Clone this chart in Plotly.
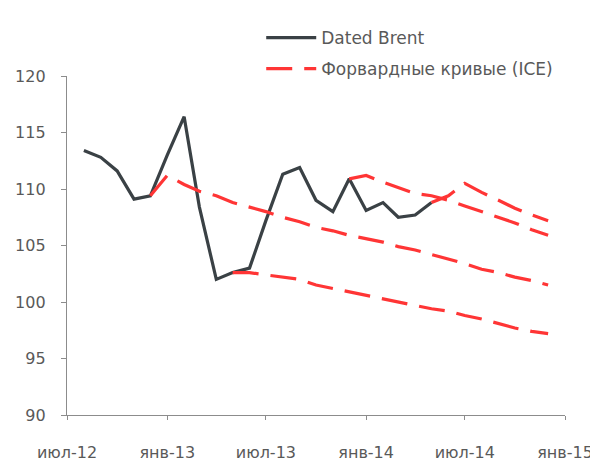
import pandas as pd
import plotly.graph_objects as go

# --- data ---
brent_start = "2012-08-01"
brent_values = [113.4, 112.8, 111.6, 109.1, 109.4, 113.0, 116.4, 108.4, 102.0, 102.6,
                103.0, 107.2, 111.3, 111.9, 109.0, 108.0, 110.9, 108.1, 108.8, 107.5,
                107.7, 108.8]

fwd1_start = "2012-12-01"
fwd1_values = [109.4, 111.2, 110.4, 109.8, 109.4, 108.8, 108.4, 108.0, 107.5, 107.1,
               106.6, 106.3, 105.9, 105.6, 105.3, 104.9, 104.6, 104.2, 103.8, 103.4,
               102.9, 102.6, 102.2, 101.9, 101.5]

fwd2_start = "2013-05-01"
fwd2_values = [102.6, 102.6, 102.4, 102.2, 102.0, 101.5, 101.2, 100.9, 100.6, 100.3,
               100.0, 99.7, 99.4, 99.2, 98.8, 98.5, 98.1, 97.7, 97.4, 97.2]

fwd3_start = "2013-12-01"
fwd3_values = [110.9, 111.2, 110.6, 110.1, 109.6, 109.4, 109.0, 108.5, 108.0, 107.5,
               107.0, 106.4, 105.9]

fwd4_start = "2014-05-01"
fwd4_values = [108.8, 109.4, 110.5, 109.7, 109.0, 108.3, 107.7, 107.2]

tick_dates = ["2012-07-01", "2013-01-01", "2013-07-01", "2014-01-01", "2014-07-01", "2015-01-01"]
tick_labels = ["июл-12", "янв-13", "июл-13", "янв-14", "июл-14", "янв-15"]
y_ticks = [90, 95, 100, 105, 110, 115, 120]

series_names = ["Dated Brent", "Форвардные кривые (ICE)"]

# --- styles ---
BLACK = "#3a4145"
RED = "#ff3535"
AXIS = "#8c8c8c"
TEXT = "#595959"
FONT = "DejaVu Sans"


def months(start, n):
    return pd.date_range(start, periods=n, freq="MS")


fig = go.Figure()

fig.add_trace(go.Scatter(
    x=months(brent_start, len(brent_values)), y=brent_values, mode="lines",
    name=series_names[0], legendgroup="a",
    line=dict(color=BLACK, width=3.2),
))

for i, (start, vals) in enumerate([(fwd1_start, fwd1_values), (fwd2_start, fwd2_values),
                                   (fwd3_start, fwd3_values), (fwd4_start, fwd4_values)]):
    fig.add_trace(go.Scatter(
        x=months(start, len(vals)), y=vals, mode="lines",
        name=series_names[1], legendgroup="b", showlegend=(i == 0),
        line=dict(color=RED, width=3.2, dash="26px,12px"),
    ))

# page body has an 8px default margin, so the figure is 8px smaller on each axis
fig.update_layout(
    width=590, height=458,
    margin=dict(l=59, r=33, t=68, b=51, autoexpand=False),
    paper_bgcolor="white", plot_bgcolor="white",
    font=dict(family=FONT, color=TEXT, size=16),
    showlegend=True,
    legend=dict(
        x=0.39, xanchor="left", y=1.165, yanchor="top",
        font=dict(size=17, color=TEXT, family=FONT),
        itemwidth=50, tracegroupgap=6, bgcolor="rgba(0,0,0,0)",
    ),
    xaxis=dict(
        type="date", range=["2012-07-01", "2015-01-01"],
        tickvals=tick_dates, ticktext=tick_labels,
        showgrid=False, zeroline=False, automargin=False,
        showline=True, linecolor=AXIS, linewidth=1.3,
        ticks="outside", ticklen=4, tickcolor=AXIS, tickwidth=1.3,
        ticklabelstandoff=19,
        tickfont=dict(size=16, color=TEXT, family=FONT),
    ),
    yaxis=dict(
        range=[90, 120], tickvals=y_ticks,
        showgrid=False, zeroline=False, automargin=False,
        showline=True, linecolor=AXIS, linewidth=1.3,
        ticks="outside", ticklen=5, tickcolor=AXIS, tickwidth=1.3,
        ticklabelstandoff=12,
        tickfont=dict(size=16, color=TEXT, family=FONT),
    ),
)

fig.write_html("out.html")
